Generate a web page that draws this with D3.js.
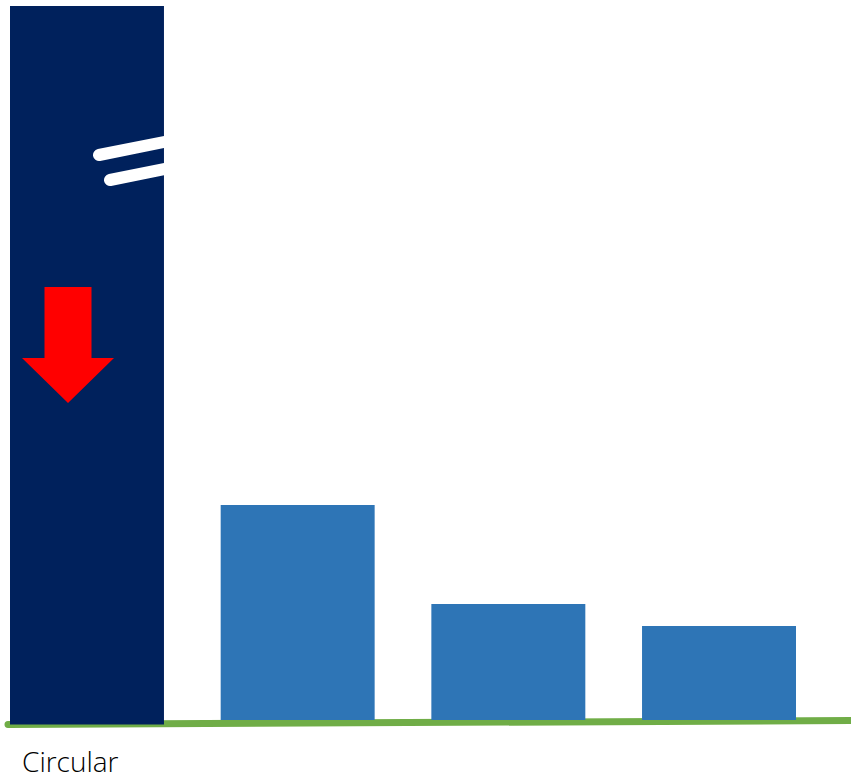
<!DOCTYPE html>
<html><head><meta charset="utf-8">
<script src="https://cdn.jsdelivr.net/npm/d3@7"></script>
<style>html,body{margin:0;padding:0;background:#fff;}svg{display:block;}</style>
</head><body>
<script>
const categories = ["Circular", "B", "C", "D"];
const labels = ["Circular", "", "", ""];
const values = [142.8, 43, 23.2, 18.8];
const colors = ["#00215C", "#2E75B6", "#2E75B6", "#2E75B6"];

const W = 851, H = 779;
const svg = d3.select("body").append("svg").attr("width", W).attr("height", H);

const x = d3.scaleBand().domain(categories).range([10, 796]).paddingInner(0.2692).paddingOuter(0);
const y = d3.scaleLinear().domain([0, 143]).range([720, 5]);

// green baseline (slightly sloped)
svg.append("line")
  .attr("x1", 8).attr("y1", y(0) + 4.5)
  .attr("x2", W).attr("y2", y(0) + 0.5)
  .attr("stroke", "#70AD47").attr("stroke-width", 7).attr("stroke-linecap", "round");

// bars
svg.selectAll("rect.bar").data(categories).join("rect")
  .attr("class", "bar")
  .attr("x", d => x(d))
  .attr("width", x.bandwidth())
  .attr("y", (d, i) => y(values[i]))
  .attr("height", (d, i) => y(0) - y(values[i]) + (i === 0 ? 4.5 : 0))
  .attr("fill", (d, i) => colors[i]);

// break marks on the first bar, clipped to its extent
const bx = x(categories[0]), bw = x.bandwidth();
svg.append("clipPath").attr("id", "clipBar").append("rect")
  .attr("x", bx).attr("y", 0).attr("width", bw).attr("height", H);
const brk = svg.append("g").attr("clip-path", "url(#clipBar)");
[[89, 113], [100, 108]].forEach(([dx, v]) => {
  const x1 = bx + dx, y1 = y(v);
  const x2 = bx + bw + 10, y2 = y1 - (x2 - x1) * 0.2;
  brk.append("line")
    .attr("x1", x1).attr("y1", y1)
    .attr("x2", x2).attr("y2", y2)
    .attr("stroke", "#fff").attr("stroke-width", 12).attr("stroke-linecap", "round");
});

// red down arrow
const ax = bx + 58;
const arrow = d3.path();
arrow.moveTo(ax - 23.5, y(86.6));
arrow.lineTo(ax + 23.5, y(86.6));
arrow.lineTo(ax + 23.5, y(72.4));
arrow.lineTo(ax + 46, y(72.4));
arrow.lineTo(ax, y(63.4));
arrow.lineTo(ax - 46, y(72.4));
arrow.lineTo(ax - 23.5, y(72.4));
arrow.closePath();
svg.append("path").attr("d", arrow.toString()).attr("fill", "#FF0000");

// category label
svg.selectAll("text.lab").data(categories).join("text")
  .attr("class", "lab")
  .attr("x", d => x(d) + 12)
  .attr("y", 772)
  .attr("font-family", "'Open Sans', 'Noto Sans', sans-serif")
  .attr("font-size", 28)
  .attr("font-weight", 300)
  .attr("fill", "#000")
  .text((d, i) => labels[i]);
</script>
</body></html>
